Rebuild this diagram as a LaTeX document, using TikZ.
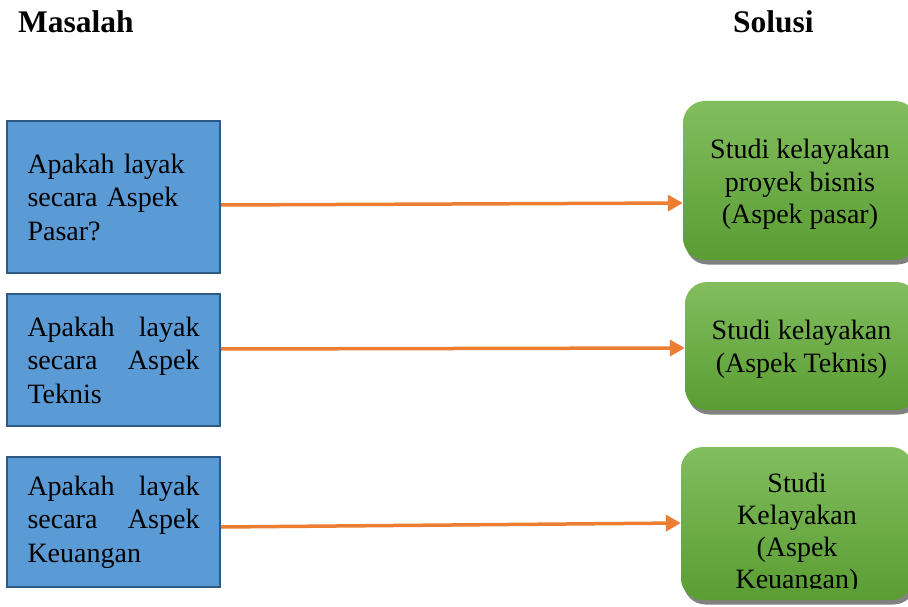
\documentclass[tikz,border=0pt]{standalone}
\usepackage{fontspec}
\setmainfont{Liberation Serif}
\usetikzlibrary{arrows.meta,shadows}
\definecolor{bluefill}{HTML}{5B9BD5}
\definecolor{blueline}{HTML}{2E5A86}
\definecolor{orangeline}{HTML}{ED7D31}
\definecolor{greentop}{HTML}{82BD5E}
\definecolor{greenbot}{HTML}{5A9D33}
\begin{document}
\begin{tikzpicture}[x=1pt,y=-1pt,
  title/.style={font=\fontsize{31.5}{36}\selectfont\bfseries, anchor=base west, inner sep=0pt},
  qbox/.style={draw=blueline, line width=2pt, fill=bluefill, text width=172pt, align=left,
    inner xsep=20.5pt, inner ysep=0pt, minimum height=#1, font=\fontsize{28}{33.5}\selectfont},
  sbox/.style={rounded corners=22pt, top color=greentop, bottom color=greenbot, draw=none,
    minimum width=#1, align=center, inner sep=0pt, font=\fontsize{28}{32.5}\selectfont,
    drop shadow={shadow xshift=2.5pt, shadow yshift=-4.5pt, fill=black!70, opacity=0.7}},
  link/.style={draw=orangeline, line width=3.5pt, -{Triangle[length=15pt,width=16pt]}}
]
\useasboundingbox (0,0) rectangle (908,607);
\clip (0,0) rectangle (908,607);

\node[title] (tmasalah) at (18,33) {Masalah};
\node[title] (tsolusi) at (733,33) {Solusi};

\node[qbox=152pt] (b1) at (113.5,197) {Apakah layak\\secara Aspek\\Pasar?};
\node[qbox=132pt] (b2) at (113.5,360) {Apakah\hfill layak\\secara\hfill Aspek\\Teknis};
\node[qbox=130pt] (b3) at (113.5,522) {Apakah\hfill layak\\secara\hfill Aspek\\Keuangan};

\node[sbox=234pt, minimum height=159pt] (g1) at (800,180.5) {\rule{0pt}{27.5pt}Studi kelayakan\\proyek bisnis\\(Aspek pasar)};
\node[sbox=233pt, minimum height=128pt] (g2) at (801.5,346) {\rule{0pt}{25.5pt}Studi kelayakan\\(Aspek Teknis)};
\node[sbox=232pt, minimum height=153pt] (g3) at (797,523.5) {};
\begin{scope}
  \clip (681,447) rectangle (913,588);
  \node[anchor=north, align=center, inner sep=0pt, font=\fontsize{28}{32}\selectfont] (g3text) at (797,473) {Studi\\Kelayakan\\(Aspek\\Keuangan)};
\end{scope}

\draw[link] ([yshift=-8pt]b1.east) -- ([yshift=-22.5pt]g1.west);
\draw[link] ([yshift=11pt]b2.east) -- ([yshift=-2pt]g2.west);
\draw[link] ([yshift=-5pt]b3.east) -- ([yshift=0.5pt]g3.west);
\end{tikzpicture}
\end{document}
